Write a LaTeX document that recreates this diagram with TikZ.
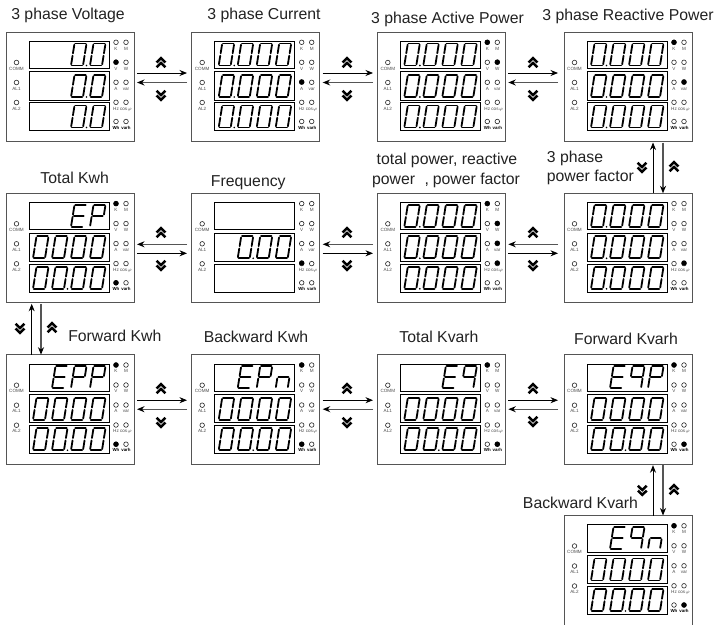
\documentclass[tikz,border=0pt]{standalone}
\usepackage{fontspec}
\setmainfont{Liberation Sans}
\usetikzlibrary{arrows.meta}
\definecolor{ink}{HTML}{222222}
\definecolor{edge}{HTML}{555555}
\definecolor{soft}{HTML}{555555}
\tikzset{
  x=1pt,y=-1pt,
  seg/.style={line width=1.8pt,line cap=round,black},
  panel/.style={draw=edge,line width=1pt,fill=white,minimum width=128pt,minimum height=109.5pt,inner sep=0pt,outer sep=0pt,anchor=north west},
  dispbox/.style={draw=black,line width=0.75pt},
  led/.style={draw=black!85,line width=0.6pt},
  tiny/.style={font=\fontsize{4.6}{5}\selectfont,text=black!70,inner sep=0pt,anchor=base},
  tinyb/.style={font=\bfseries\fontsize{4.4}{5}\selectfont,text=black,inner sep=0pt,anchor=base},
  title/.style={font=\fontsize{15.8}{18}\selectfont,text=ink,inner sep=0pt,anchor=base},
  fwd/.style={draw=black,line width=0.8pt,-{Stealth[length=7.5pt,width=6pt]}},
  bwd/.style={draw=soft,line width=1.1pt,-{Stealth[length=7.5pt,width=6pt,color=black]}},
  chev/.style={line width=2.5pt,black,miter limit=10},
}
% seven segments, origin at the digit's lower left corner
\newcommand{\SA}{\draw[seg](1.8,-22)--(12.2,-22);}
\newcommand{\SB}{\draw[seg](13,-20.8)--(13,-12.2);}
\newcommand{\SC}{\draw[seg](13,-9.8)--(13,-1.2);}
\newcommand{\SD}{\draw[seg](1.8,0)--(12.2,0);}
\newcommand{\SE}{\draw[seg](1,-9.8)--(1,-1.2);}
\newcommand{\SF}{\draw[seg](1,-20.8)--(1,-12.2);}
\newcommand{\SG}{\draw[seg](2,-11)--(12,-11);}
\newcommand{\GZ}{\SA\SB\SC\SD\SE\SF}
\newcommand{\GE}{\SA\SD\SE\SF\SG}
\newcommand{\GP}{\SA\SB\SE\SF\SG}
\newcommand{\GN}{\SC\SE\SG}
\newcommand{\GQ}{\SA\SB\SC\SF\SG}
\newcommand{\dg}[2]{\begin{scope}[shift={({26+#1*19},0)},xslant=0.16]#2\end{scope}}
\newcommand{\dpt}[1]{\fill[black] ({26+#1*19+16.5},0) circle (0.95);}
% row contents
\newcommand{\rVolt}{\dg{2}{\GZ}\dg{3}{\GZ}\dpt{2}}
\newcommand{\rFour}{\dg{0}{\GZ}\dg{1}{\GZ}\dg{2}{\GZ}\dg{3}{\GZ}\dpt{0}}
\newcommand{\rPlain}{\dg{0}{\GZ}\dg{1}{\GZ}\dg{2}{\GZ}\dg{3}{\GZ}}
\newcommand{\rEnergy}{\dg{0}{\GZ}\dg{1}{\GZ}\dg{2}{\GZ}\dg{3}{\GZ}\dpt{1}}
\newcommand{\rFreq}{\dg{1}{\GZ}\dg{2}{\GZ}\dg{3}{\GZ}\dpt{1}}
\newcommand{\rEP}{\dg{2}{\GE}\dg{3}{\GP}}
\newcommand{\rEPP}{\dg{1}{\GE}\dg{2}{\GP}\dg{3}{\GP}}
\newcommand{\rEPn}{\dg{1}{\GE}\dg{2}{\GP}\dg{3}{\GN}}
\newcommand{\rEq}{\dg{2}{\GE}\dg{3}{\GQ}}
\newcommand{\rEqP}{\dg{1}{\GE}\dg{2}{\GQ}\dg{3}{\GP}}
\newcommand{\rEqn}{\dg{1}{\GE}\dg{2}{\GQ}\dg{3}{\GN}}
\newcommand{\rNone}{}
% \meter{name}{x}{y}{row1}{row2}{row3}{lit LEDs col/row}
\newcommand{\meter}[7]{
  \node[panel] (#1) at (#2,#3) {};
  \begin{scope}[shift={(#2,#3)}]
    \draw[dispbox] (23,9.3) rectangle (103,36.5);
    \draw[dispbox] (23,39.7) rectangle (103,68);
    \draw[dispbox] (23,70.6) rectangle (103,98.8);
    \begin{scope}[shift={(0,33.5)}]#4\end{scope}
    \begin{scope}[shift={(0,65)}]#5\end{scope}
    \begin{scope}[shift={(0,95.5)}]#6\end{scope}
    \foreach \c/\yy/\t [count=\n] in {0/0/COMM,0/1/AL1,0/2/AL2}{
      \draw[led] (10.5,{30.5+\yy*20}) circle (2.3);
      \node[tiny] (#1-s\n) at (10.5,{38+\yy*20}) {\t};
    }
    \foreach \c/\r/\t [count=\n] in {0/0/K,1/0/M,0/1/V,1/1/W,0/2/A,1/2/var,0/3/Hz,1/3/cos$\varphi$}{
      \draw[led] ({110+\c*10},{10.3+\r*20}) circle (2.3);
      \node[tiny] (#1-l\n) at ({110+\c*10},{18+\r*20}) {\t};
    }
    \foreach \c/\t [count=\n] in {0/Wh,1/varh}{
      \draw[led] ({110+\c*10},89.5) circle (2.3);
      \node[tinyb] (#1-b\n) at ({110+\c*10},97) {\t};
    }
    \foreach \c/\r in {#7}{
      \fill[black] ({110+\c*10},{10.3+\r*19.8}) circle (2.7);
    }
  \end{scope}
}
\newcommand{\chevup}[2]{\begin{scope}[shift={(#1,#2)}]
  \draw[chev] (-4.4,-0.6)--(0,-4.8)--(4.4,-0.6);
  \draw[chev] (-4.4,4.2)--(0,0)--(4.4,4.2);
\end{scope}}
\newcommand{\chevdn}[2]{\begin{scope}[shift={(#1,#2)}]
  \draw[chev] (-4.4,0.6)--(0,4.8)--(4.4,0.6);
  \draw[chev] (-4.4,-4.2)--(0,0)--(4.4,-4.2);
\end{scope}}
% horizontal arrows between two named panels: {a}{b}{rel y}{gap at b}
\newcommand{\hR}[4]{\draw[fwd] ([xshift=3pt,yshift=-#3pt]#1.north east) -- ([xshift=-#4pt,yshift=-#3pt]#2.north west);}
\newcommand{\hL}[4]{\draw[bwd] ([xshift=-#4pt,yshift=-#3pt]#2.north west) -- ([xshift=3pt,yshift=-#3pt]#1.north east);}
% vertical pair between upper panel a and lower panel b
\newcommand{\vpair}[4]{
  \draw[fwd] ([xshift=#3pt]#2.north west) -- ([xshift=#3pt,yshift=-1pt]#1.south west);
  \draw[bwd] ([xshift=#4pt,yshift=-1pt]#1.south west) -- ([xshift=#4pt]#2.north west);
}
\begin{document}
\begin{tikzpicture}
\useasboundingbox (0,0) rectangle (717,624);
\fill[white] (0,0) rectangle (717,624);
% row 1
\meter{a1}{6}{32}{\rVolt}{\rVolt}{\rVolt}{0/1}
\meter{a2}{191.7}{32}{\rFour}{\rFour}{\rFour}{0/2}
\meter{a3}{377.3}{32}{\rFour}{\rFour}{\rFour}{0/0,1/1}
\meter{a4}{564}{32}{\rFour}{\rFour}{\rFour}{0/0,1/2}
% row 2
\meter{b1}{6}{193.3}{\rEP}{\rPlain}{\rEnergy}{0/0,0/4}
\meter{b2}{191.7}{193.3}{\rNone}{\rFreq}{\rNone}{0/3}
\meter{b3}{377.3}{193.3}{\rFour}{\rFour}{\rFour}{0/0,1/1,1/2,1/3}
\meter{b4}{564}{193.3}{\rFour}{\rFour}{\rFour}{1/3}
% row 3
\meter{c1}{6}{354.7}{\rEPP}{\rPlain}{\rEnergy}{0/0,0/4}
\meter{c2}{191.7}{354.7}{\rEPn}{\rPlain}{\rEnergy}{0/0,0/4}
\meter{c3}{377.3}{354.7}{\rEq}{\rPlain}{\rEnergy}{0/0,1/4}
\meter{c4}{564}{354.7}{\rEqP}{\rPlain}{\rEnergy}{0/0,1/4}
% bottom
\meter{d4}{564}{515.5}{\rEqn}{\rPlain}{\rEnergy}{0/0,1/4}
% titles
\node[title] (t1) at (68,19.5) {3 phase Voltage};
\node[title] (t2) at (264,19.5) {3 phase Current};
\node[title] (t3) at (447.5,23.5) {3 phase Active Power};
\node[title] (t4) at (628,20.5) {3 phase Reactive Power};
\node[title] (t5) at (74.7,183.5) {Total Kwh};
\node[title] (t6) at (248.3,186) {Frequency};
\node[title] (t7) at (447,164.5) {total power, reactive};
\node[title] (t8) at (446,184.5) {power\hspace{9.5pt},\hspace{3.8pt}power factor};
\node[title,anchor=base west] (t9) at (546.7,162) {3 phase};
\node[title,anchor=base west] (t10) at (546.7,181.5) {power factor};
\node[title] (t11) at (114.8,341) {Forward Kwh};
\node[title] (t12) at (256,342.5) {Backward Kwh};
\node[title] (t13) at (439,342) {Total Kvarh};
\node[title] (t14) at (626,344.5) {Forward Kvarh};
\node[title] (t15) at (580.5,508) {Backward Kvarh};
% row 1 arrows
\hR{a1}{a2}{41}{4.7}\hL{a1}{a2}{50.5}{4.7}
\hR{a2}{a3}{41}{4.3}\hL{a2}{a3}{50.5}{4.3}
\hR{a3}{a4}{41}{6}\hL{a3}{a4}{50.5}{6}
\chevup{161}{63}\chevdn{161}{95}
\chevup{347}{63}\chevdn{347}{95}
\chevup{533}{63}\chevdn{533}{95}
% row 2 arrows
\hL{b1}{b2}{51}{4.7}\hR{b1}{b2}{60}{4.7}
\hL{b2}{b3}{51}{4.3}\hR{b2}{b3}{60}{4.3}
\hL{b3}{b4}{51}{6}\hR{b3}{b4}{60}{6}
\chevup{161}{233}\chevdn{161}{265}
\chevup{347}{233}\chevdn{347}{265}
\chevup{533}{233}\chevdn{533}{265}
% row 3 arrows
\hR{c1}{c2}{45.5}{4.7}\hL{c1}{c2}{54.5}{4.7}
\hR{c2}{c3}{45.5}{4.3}\hL{c2}{c3}{54.5}{4.3}
\hR{c3}{c4}{45.5}{6}\hL{c3}{c4}{54.5}{6}
\chevup{161}{389}\chevdn{161}{422}
\chevup{347}{389}\chevdn{347}{422}
\chevup{533}{389}\chevdn{533}{421}
% vertical arrows
\vpair{a4}{b4}{89}{99}
\chevdn{642}{167}\chevup{674}{167}
\vpair{b1}{c1}{25.7}{35}
\chevdn{20}{328}\chevup{52}{328}
\vpair{c4}{d4}{89}{99}
\chevdn{642.3}{490}\chevup{674}{490}
\end{tikzpicture}
\end{document}
